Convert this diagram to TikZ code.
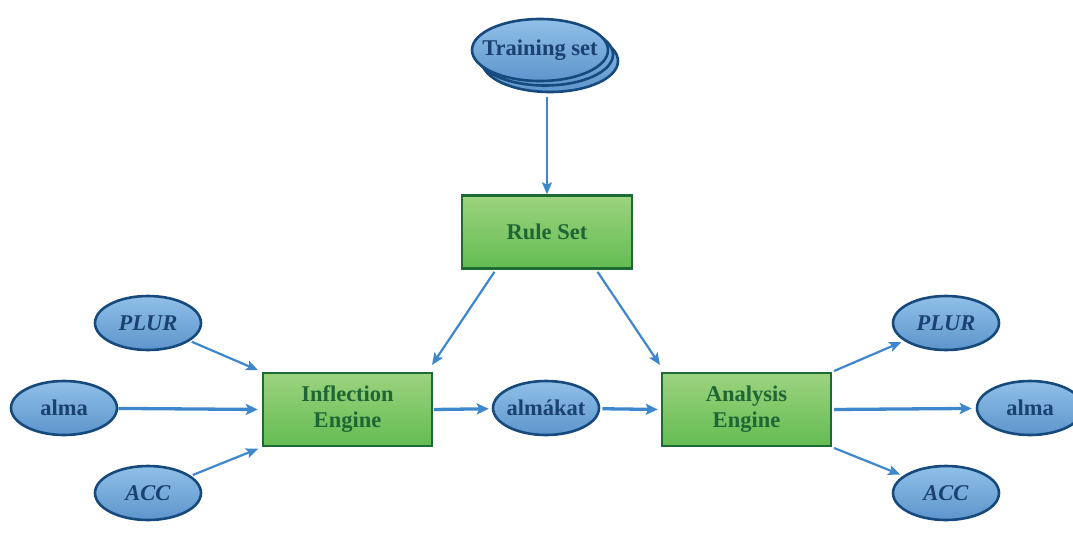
\documentclass[tikz,border=0pt]{standalone}
\usepackage{fontspec}
\setmainfont{Liberation Serif}
\usetikzlibrary{shapes.geometric,arrows.meta}
\definecolor{ovtop}{HTML}{8FC0E8}
\definecolor{ovbot}{HTML}{5E95CC}
\definecolor{ovline}{HTML}{174A7C}
\definecolor{ovtext}{HTML}{1A4170}
\definecolor{bxtop}{HTML}{9DD37F}
\definecolor{bxbot}{HTML}{63BC52}
\definecolor{bxline}{HTML}{1D6B33}
\definecolor{bxtext}{HTML}{1E6634}
\definecolor{flow}{HTML}{3E87CC}
\tikzset{
  oval/.style={ellipse, draw=ovline, line width=2.6pt, top color=ovtop, bottom color=ovbot,
    minimum width=106pt, minimum height=54pt, inner sep=0pt,
    label={[text=ovtext, font=\fontsize{22.5}{26}\selectfont\bfseries]center:#1}},
  oval/.default={},
  engine/.style={rectangle, draw=bxline, line width=2.4pt, top color=bxtop, bottom color=bxbot,
    minimum width=169pt, minimum height=73pt, inner sep=0pt, text=bxtext, align=center,
    font=\fontsize{22.5}{26}\selectfont\bfseries},
  link/.style={draw=flow, line width=2.2pt, -{Stealth[length=12pt,width=10pt,inset=2.5pt]}},
  mainlink/.style={draw=flow, line width=3.3pt, -{Stealth[length=12pt,width=11pt,inset=2.5pt]}}
}
\begin{document}
\begin{tikzpicture}[x=1pt,y=-1pt]
\useasboundingbox (0,0) rectangle (1073,552);

% stacked training set documents
\node[oval, minimum width=136pt, minimum height=62pt] (ts2) at (550,61) {};
\node[oval, minimum width=136pt, minimum height=62pt] (ts1) at (545,54.5) {};
\node[oval={Training set}, minimum width=136pt, minimum height=62pt] (ts) at (540,50) {};

% engines and rule set
\node[engine, minimum width=170pt] (rs) at (547,232) {Rule Set};
\node[engine] (inf) at (347.5,409.5) {Inflection\\Engine};
\node[engine] (ana) at (746.5,409.5) {Analysis\\Engine};

% word forms and tags
\node[oval={almákat}] (mid) at (546,408) {};
\node[oval={\textit{PLUR}}] (lplur) at (148,323) {};
\node[oval={alma}] (lalma) at (64,408) {};
\node[oval={\textit{ACC}}] (lacc) at (148,493) {};
\node[oval={\textit{PLUR}}] (rplur) at (946,323) {};
\node[oval={alma}] (ralma) at (1030,408) {};
\node[oval={\textit{ACC}}] (racc) at (946,493) {};

% connection points
\coordinate (tsout) at (547,97);
\coordinate (rsl) at (495,271);
\coordinate (rsr) at (597,271);
\coordinate (infin) at (432,365);
\coordinate (anain) at (660,365);

% connectors
\draw[link] (tsout) -- (rs.north);
\draw[link, shorten <=1pt] (rsl) -- (infin);
\draw[link, shorten <=1pt] (rsr) -- (anain);

\draw[link, shorten <=2pt, shorten >=4pt] (lplur) -- (inf.north west);
\draw[mainlink, shorten >=4pt] (lalma) -- (inf.west);
\draw[link, shorten <=2pt, shorten >=4pt] (lacc) -- (inf.south west);

\draw[mainlink, shorten <=1pt, shorten >=3pt] (inf.east) -- (mid);
\draw[mainlink, shorten <=2pt, shorten >=3pt] (mid) -- (ana.west);

\draw[link, shorten <=2pt, shorten >=3pt] (ana.north east) -- (rplur);
\draw[mainlink, shorten <=2pt, shorten >=4pt] (ana.east) -- (ralma);
\draw[link, shorten <=2pt, shorten >=3pt] (ana.south east) -- (racc);
\end{tikzpicture}
\end{document}
